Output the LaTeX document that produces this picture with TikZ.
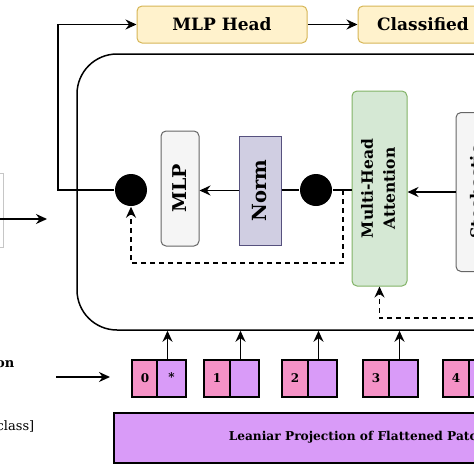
\documentclass[tikz,border=0pt]{standalone}
\usepackage{fontspec}
\setmainfont{DejaVu Serif}
\usepackage{graphicx}
\usetikzlibrary{arrows.meta}

\definecolor{headfill}{HTML}{FFF2CC}
\definecolor{headline}{HTML}{D6B656}
\definecolor{greyfill}{HTML}{F5F5F5}
\definecolor{greyline}{HTML}{666666}
\definecolor{normfill}{HTML}{D0CEE2}
\definecolor{normline}{HTML}{56517E}
\definecolor{attnfill}{HTML}{D5E8D4}
\definecolor{attnline}{HTML}{82B366}
\definecolor{posfill}{HTML}{F592C6}
\definecolor{patchfill}{HTML}{D99BF8}

\begin{document}
\begin{tikzpicture}[x=1pt,y=1pt,yscale=-1,xscale=1,
  line width=1.5pt,
  >={Stealth[length=11pt,width=10pt]},
  skipline/.style={dash pattern=on 5pt off 4pt},
  headbox/.style={draw=headline,fill=headfill,rounded corners=5pt,line width=1pt,inner sep=0pt,font=\bfseries\fontsize{17}{20}\selectfont},
  greybox/.style={draw=greyline,fill=greyfill,rounded corners=5pt,line width=1pt,inner sep=0pt,font=\bfseries\fontsize{19}{22}\selectfont},
  normbox/.style={draw=normline,fill=normfill,line width=1pt,inner sep=0pt,font=\bfseries\fontsize{19.5}{22}\selectfont},
  attnbox/.style={draw=attnline,fill=attnfill,rounded corners=5pt,line width=1pt,inner sep=0pt,font=\bfseries\fontsize{15.5}{22}\selectfont},
  sumdot/.style={circle,fill=black,minimum size=32pt,inner sep=0pt},
  posbox/.style={draw=black,fill=posfill,line width=1.4pt,minimum width=26pt,minimum height=37pt,inner sep=0pt,font=\bfseries\fontsize{12}{14}\selectfont},
  patchbox/.style={draw=black,fill=patchfill,line width=1.4pt,minimum width=29pt,minimum height=37pt,inner sep=0pt,font=\bfseries\fontsize{12}{14}\selectfont},
]
\useasboundingbox (0,0) rectangle (474,474);
\clip (0,0) rectangle (474,474);

%Shape: Rectangle [id:encoder]
\node[draw,rounded corners=40pt,minimum width=483pt,minimum height=276pt,inner sep=0pt] (encoder) at (318.5,192) {};

%Shape: Top boxes
\node[headbox,minimum width=170pt,minimum height=37pt] (mlphead) at (222,24.5) {MLP Head};
\node[headbox,minimum width=130pt,minimum height=37pt] (classified) at (423,24.5) {Classified};

%Shape: Encoder blocks
\node[greybox,minimum width=38pt,minimum height=115pt] (mlp) at (180,188.5) {\rotatebox{90}{MLP}};
\node[normbox,minimum width=42pt,minimum height=109pt] (norm) at (260,190.5) {\rotatebox{90}{Norm}};
\node[attnbox,minimum width=55pt,minimum height=195pt] (mha) at (379.5,188.5) {\rotatebox{90}{\begin{tabular}{@{}c@{}}Multi-Head\\Attention\end{tabular}}};
\node[greybox,font=\bfseries\fontsize{16}{20}\selectfont,minimum width=64pt,minimum height=159pt] (stoch) at (488,192) {\rotatebox{90}{\begin{tabular}{@{}c@{}}Stochastic\\Depth\end{tabular}}};

%Shape: Circles
\node[sumdot] (sum1) at (131,190) {};
\node[sumdot] (sum2) at (316,190) {};

%Shape: Left partial box
\node[draw=gray!45,line width=0.8pt,minimum width=40pt,minimum height=74pt,inner sep=0pt] (prevbox) at (-17,210) {};

%Shape: Tokens
\node[posbox] (pos0) at (145,378.5) {0};
\node[patchbox] (emb0) at (171.5,378.5) {\raisebox{3pt}{*}};
\node[posbox] (pos1) at (217,378.5) {1};
\node[patchbox] (emb1) at (244.5,378.5) {};
\node[posbox] (pos2) at (295,378.5) {2};
\node[patchbox] (emb2) at (322.5,378.5) {};
\node[posbox] (pos3) at (376,378.5) {3};
\node[patchbox] (emb3) at (403.5,378.5) {};
\node[posbox] (pos4) at (456,378.5) {4};
\node[patchbox] (emb4) at (483.5,378.5) {};

%Shape: Projection
\node[draw=black,fill=patchfill,line width=1.4pt,minimum width=500pt,minimum height=50pt,inner sep=0pt] (proj) at (364,438) {};
% Text Node
\node[anchor=west,inner sep=0pt,font=\bfseries\fontsize{12.2}{14}\selectfont] (projtext) at (228,437) {Leaniar Projection of Flattened Patches};

% Text Node
\node[anchor=east,inner sep=0pt,font=\bfseries\fontsize{13}{15}\selectfont] (postext) at (15,363) {Position};
% Text Node
\node[anchor=east,inner sep=0pt,font=\fontsize{13}{15}\selectfont] (clstext) at (35,426) {[class]};

%Coordinates
\coordinate (bypass) at (58,24);
\coordinate (split) at (343,190);
\coordinate (skip1) at (131,263);
\coordinate (skip2) at (500,318);
\coordinate (instart) at (-10,219);
\coordinate (inend) at (47,219);
\coordinate (tokstart) at (56,377);
\coordinate (tokend) at (110,377);

%Straight Lines
\draw[->] (mlphead) -- (classified);
\draw[->] (sum1.west) -- (sum1.west -| bypass) |- (mlphead.west);
\draw[->] (norm.west) -- (norm.west -| mlp.east);
\draw (norm.east |- sum2) -- (sum2);
\draw (sum2) -- (sum2 -| mha.west);
\draw[->] (stoch.west) -- (stoch.west -| mha.east);
\draw[skipline,->] (split) |- (skip1) -- (sum1.south);
\draw[skipline,->] (skip2) -| (mha.south);
\draw[->] (instart) -- (inend);
\draw[->] (tokstart) -- (tokend);
\draw[->] ([xshift=-4pt]emb0.north) -- ([xshift=-4pt]emb0.north |- encoder.south);
\draw[->] ([xshift=-4pt]emb1.north) -- ([xshift=-4pt]emb1.north |- encoder.south);
\draw[->] ([xshift=-4pt]emb2.north) -- ([xshift=-4pt]emb2.north |- encoder.south);
\draw[->] ([xshift=-4pt]emb3.north) -- ([xshift=-4pt]emb3.north |- encoder.south);
\draw[->] ([xshift=-4pt]emb4.north) -- ([xshift=-4pt]emb4.north |- encoder.south);

\end{tikzpicture}
\end{document}
